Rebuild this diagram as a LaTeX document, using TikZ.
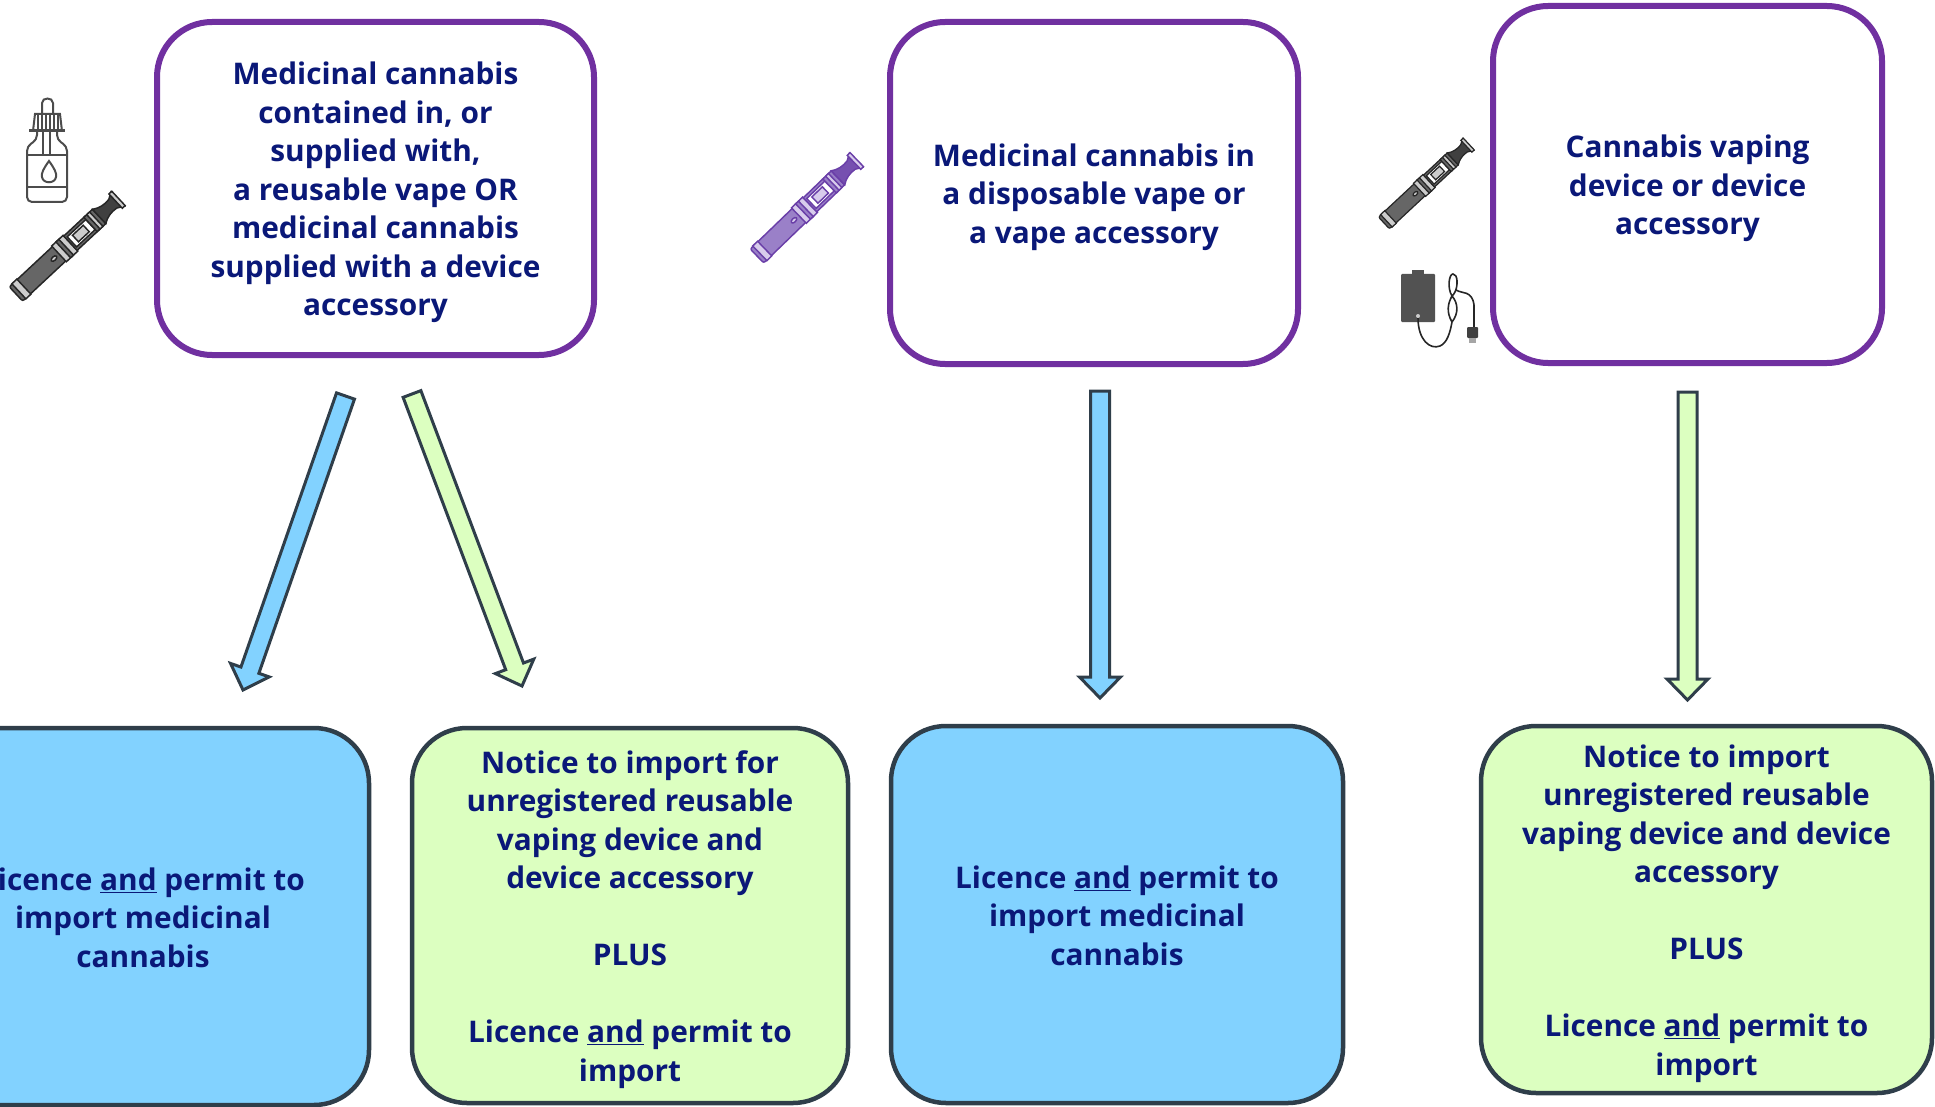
\documentclass[tikz,border=0pt]{standalone}
\usepackage{fontspec}
\setmainfont{Open Sans}
\usetikzlibrary{calc}

\definecolor{navytext}{HTML}{0A1878}
\definecolor{boxpurple}{HTML}{7030A0}
\definecolor{boxblue}{HTML}{82D2FF}
\definecolor{boxgreen}{HTML}{DCFFC0}
\definecolor{boxline}{HTML}{2F3E4A}
\definecolor{penpurple}{HTML}{9A80C8}
\definecolor{penedge}{HTML}{6A3FA8}
\definecolor{penpale}{HTML}{D8CCEC}
\definecolor{penmouth}{HTML}{7650B0}

\tikzset{
  label/.style={align=center, text=navytext, font=\fontsize{29.8}{38.5}\selectfont\bfseries, inner sep=0pt},
  purplebox/.style={label, draw=boxpurple, line width=6pt, fill=white, rounded corners=55pt},
  bluebox/.style={label, draw=boxline, line width=4.5pt, fill=boxblue, rounded corners=55pt},
  greenbox/.style={label, draw=boxline, line width=4.5pt, fill=boxgreen, rounded corners=55pt},
  bluearrow/.style={draw=boxline, line width=3pt, fill=boxblue, line join=miter},
  greenarrow/.style={draw=boxline, line width=3pt, fill=boxgreen, line join=miter}
}

% pushes the text block of a box down a little
\newcommand{\droptop}{\rule{0pt}{31pt}}
\newcommand{\dropsmall}{\rule{0pt}{25pt}}

% block arrow: style, tail, tip
\newcommand{\blockarrow}[3]{
  \coordinate (neck) at ($(#3)!21pt!(#2)$);
  \draw [#1] ($(#2)!9.5pt!90:(#3)$) -- ($(neck)!9.5pt!90:(#3)$) -- ($(neck)!20.5pt!90:(#3)$) -- (#3)
    -- ($(neck)!20.5pt!-90:(#3)$) -- ($(neck)!9.5pt!-90:(#3)$) -- ($(#2)!9.5pt!-90:(#3)$) -- cycle;
}

% vape pen: position, angle, scale, line, body, light, mouth
\newcommand{\vapepen}[7]{
  \begin{scope}[shift={(#1)}, rotate=#2, scale=#3, x=1pt, y=1pt, draw=#4, line width=1.5pt*#3]
    \draw [fill=#5, rounded corners=2pt] (0,-10) rectangle (64,10);
    \draw [fill=#6] (4,-10.5) rectangle (11,10.5);
    \draw [fill=#6] (60,-11) rectangle (76,11);
    \draw [fill=#5] (66,-11) rectangle (70,11);
    \draw [fill=#5] (76,-10) rectangle (106,10);
    \draw [fill=white] (78,-7) rectangle (104,7);
    \draw [fill=#6] (83,-4.5) rectangle (98,4.5);
    \draw [fill=#5] (104,-10) rectangle (116,10);
    \draw [fill=#6] (108,-10) rectangle (112,10);
    \draw [fill=#7] (116,-10) .. controls (122,-6) and (128,-5) .. (135,-6) -- (142,-10) -- (142,10)
      -- (135,6) .. controls (128,5) and (122,6) .. (116,10) -- cycle;
    \draw [fill=#6] (139,-10) rectangle (143,10);
    \draw [fill=#6] (53,0) ellipse (3.5 and 2);
  \end{scope}
}

\begin{document}
\begin{tikzpicture}[x=1pt, y=-1pt]

  \useasboundingbox (0,0) rectangle (1935,1107);

  % top row
  \node [purplebox, minimum width=437pt, minimum height=333pt] (topa) at (375.5,188.5)
    {\droptop Medicinal cannabis\\contained in, or\\supplied with,\\a reusable vape OR\\medicinal cannabis\\supplied with a device\\accessory};
  \node [purplebox, minimum width=408pt, minimum height=342pt] (topb) at (1094,193)
    {\droptop Medicinal cannabis in\\a disposable vape or\\a vape accessory};
  \node [purplebox, minimum width=389pt, minimum height=357pt] (topc) at (1687.5,184.5)
    {\droptop Cannabis vaping\\device or device\\accessory};

  % bottom row
  \node [bluebox, minimum width=452pt, minimum height=377pt] (lowa) at (143,916.5)
    {\dropsmall Licence \underline{and} permit to\\import medicinal\\cannabis};
  \node [greenbox, minimum width=436pt, minimum height=375pt] (lowb) at (630,915.5)
    {\droptop Notice to import for\\unregistered reusable\\vaping device and\\device accessory\\[38.5pt]PLUS\\[38.5pt]Licence \underline{and} permit to\\import};
  \node [bluebox, minimum width=452pt, minimum height=377pt] (lowc) at (1117,914.5)
    {\dropsmall Licence \underline{and} permit to\\import medicinal\\cannabis};
  \node [greenbox, minimum width=451pt, minimum height=367pt] (lowd) at (1706.5,909.5)
    {\droptop Notice to import\\unregistered reusable\\vaping device and device\\accessory\\[38.5pt]PLUS\\[38.5pt]Licence \underline{and} permit to\\import};

  % arrow ends
  \coordinate (taila) at (345.5,396);
  \coordinate (tipa) at (243,690);
  \coordinate (tailb) at (412,394);
  \coordinate (tipb) at (522,686);
  \coordinate (tailc) at (1100,391);
  \coordinate (tipc) at (1100,698);
  \coordinate (taild) at (1687.5,392);
  \coordinate (tipd) at (1687.5,700);

  \blockarrow{bluearrow}{taila}{tipa}
  \blockarrow{greenarrow}{tailb}{tipb}
  \blockarrow{bluearrow}{tailc}{tipc}
  \blockarrow{greenarrow}{taild}{tipd}

  % icons
  \vapepen{16,294}{43}{0.98}{black!85}{black!60}{black!20}{black!75}
  \vapepen{1384,223}{43}{0.81}{black!85}{black!60}{black!20}{black!75}
  \vapepen{757,256}{44}{0.97}{penedge}{penpurple}{penpale}{penmouth}

  % bottle
  \begin{scope}[draw=black!70, line width=2pt]
    \draw (42,114) -- (42,103) .. controls (42,97) and (53,97) .. (53,103) -- (53,114);
    \draw (33,131) -- (35,114) -- (60,114) -- (62,131);
    \draw [line width=3pt] (29,131) -- (65,131);
    \foreach \capx in {38,42,46,50,54,58} \draw [line width=1.5pt] (\capx,115) -- (\capx,129);
    \draw [rounded corners=5pt] (37,132) -- (37,140) -- (27,146) -- (27,202) -- (67,202) -- (67,146) -- (57,140) -- (57,132);
    \draw (43,132) -- (43,155) (50,132) -- (50,155);
    \draw (27,155) -- (67,155) (27,187) -- (67,187);
    \draw (49,161) .. controls (44,168) and (41,173) .. (42,177) .. controls (43,184) and (55,184) .. (56,177) .. controls (57,173) and (54,168) .. (49,161) -- cycle;
  \end{scope}

  % charger
  \fill [black!68] (1412,270) rectangle (1424,275);
  \fill [black!68, rounded corners=1pt] (1401,274) rectangle (1435,322);
  \draw [black!85, line width=1.6pt] (1418,318) .. controls (1418,340) and (1430,350) .. (1440,346)
    .. controls (1447,343) and (1450,333) .. (1452,322) .. controls (1446,312) and (1448,303) .. (1452,296)
    .. controls (1447,288) and (1449,274) .. (1453,274) .. controls (1458,274) and (1458,286) .. (1455,292)
    .. controls (1453,296) and (1450,298) .. (1452,296) .. controls (1458,303) and (1459,313) .. (1452,322);
  \draw [black!85, line width=1.6pt] (1456,290) .. controls (1462,294) and (1472,290) .. (1474,305) -- (1474,327);
  \fill [black!75, rounded corners=1pt] (1467,327) rectangle (1478,338);
  \fill [black!35] (1469,338) rectangle (1476,343);
  \fill [black!20] (1418,316) circle (2pt);

\end{tikzpicture}
\end{document}
